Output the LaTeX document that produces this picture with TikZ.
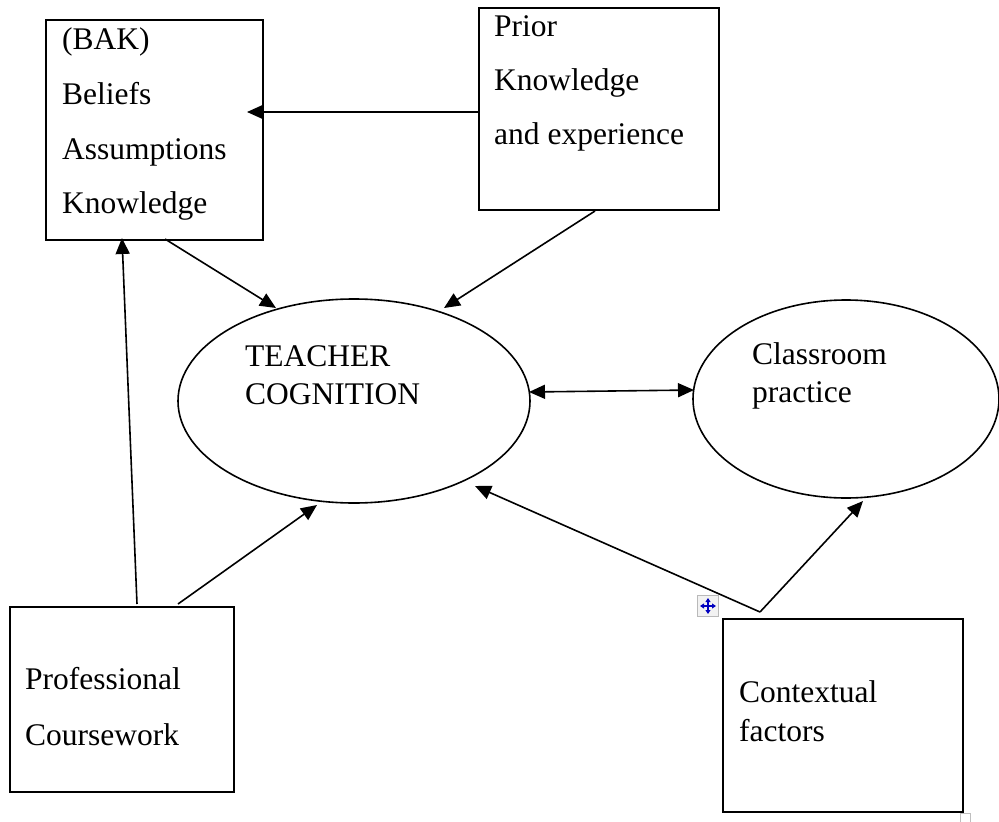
\documentclass[tikz,border=0pt]{standalone}
\usepackage{fontspec}
\setmainfont{Liberation Serif}
\usetikzlibrary{arrows.meta,shapes.geometric}
\begin{document}
\begin{tikzpicture}[x=1pt,y=-1pt,
  box/.style={draw=black,line width=1.6pt,fill=none,inner sep=0pt},
  oval/.style={draw=black,line width=1.6pt,ellipse,inner sep=0pt},
  lbl/.style={anchor=west,inner sep=0pt,font=\fontsize{31.5}{37}\selectfont,text height=21pt,text depth=7pt},
  conn/.style={line width=1.6pt,-{Triangle[length=16pt,width=14pt]}},
  dconn/.style={line width=1.6pt,{Triangle[length=16pt,width=14pt]}-{Triangle[length=16pt,width=14pt]}},
  mvarrow/.style={blue!75!black,line width=1.4pt,{Triangle[length=4pt,width=5pt]}-{Triangle[length=4pt,width=5pt]}}
]
\useasboundingbox[fill=white] (0,0) rectangle (999,822);
% boxes
\node[box,minimum width=217pt,minimum height=220pt] (bak) at (154.5,130) {};
\node[box,minimum width=240pt,minimum height=202pt] (prior) at (599,109) {};
\node[box,minimum width=224pt,minimum height=185pt] (prof) at (122,699.5) {};
\node[box,minimum width=240pt,minimum height=193pt] (ctx) at (843,715.5) {};
% ellipses
\node[oval,minimum width=352pt,minimum height=204pt] (tc) at (354,401) {};
\node[oval,minimum width=306pt,minimum height=198pt] (cp) at (846,399) {};
% texts
\node[lbl] (t1) at (62,42) {(BAK)};
\node[lbl] (t2) at (62,97) {Beliefs};
\node[lbl] (t3) at (62,152) {Assumptions};
\node[lbl] (t4) at (62,206) {Knowledge};
\node[lbl] (p1) at (494,29) {Prior};
\node[lbl] (p2) at (494,83) {Knowledge};
\node[lbl] (p3) at (494,137) {and experience};
\node[lbl] (c1) at (245,359) {TEACHER};
\node[lbl] (c2) at (245,397) {COGNITION};
\node[lbl] (r1) at (752,357) {Classroom};
\node[lbl] (r2) at (752,395) {practice};
\node[lbl] (f1) at (25,682) {Professional};
\node[lbl] (f2) at (25,738) {Coursework};
\node[lbl] (x1) at (739,695) {Contextual};
\node[lbl] (x2) at (739,734) {factors};
% anchor coordinates
\coordinate (pa) at (prior.west |- 0,112);
\coordinate (ba) at (247,112);
\coordinate (bb) at (165,239);
\coordinate (tca) at (276,308);
\coordinate (pb) at (595,211);
\coordinate (tcb) at (444,308);
\coordinate (tcl) at (529,392);
\coordinate (cpl) at (694,390);
\coordinate (fa) at (137,604);
\coordinate (bc) at (122,238);
\coordinate (fb) at (178,604);
\coordinate (tcc) at (317,505);
\coordinate (v) at (760,612);
\coordinate (tcd) at (475,486);
\coordinate (cpb) at (863,501);
% connectors
\draw[conn] (pa) -- (ba);
\draw[conn] (bb) -- (tca);
\draw[conn] (pb) -- (tcb);
\draw[dconn] (tcl) -- (cpl);
\draw[conn] (fa) -- (bc);
\draw[conn] (fb) -- (tcc);
\draw[conn] (v) -- (tcd);
\draw[conn] (v) -- (cpb);
% word artefacts
\node[draw=gray!55,fill=gray!10,line width=1.2pt,minimum size=21pt,inner sep=0pt] (mv) at (708,606) {};
\draw[mvarrow] (mv.center) ++(-8,0) -- ++(16,0);
\draw[mvarrow] (mv.center) ++(0,-8) -- ++(0,16);
\node[draw=gray!50,line width=1pt,minimum size=10pt,inner sep=0pt] (cr) at (965,818) {};
\end{tikzpicture}
\end{document}
